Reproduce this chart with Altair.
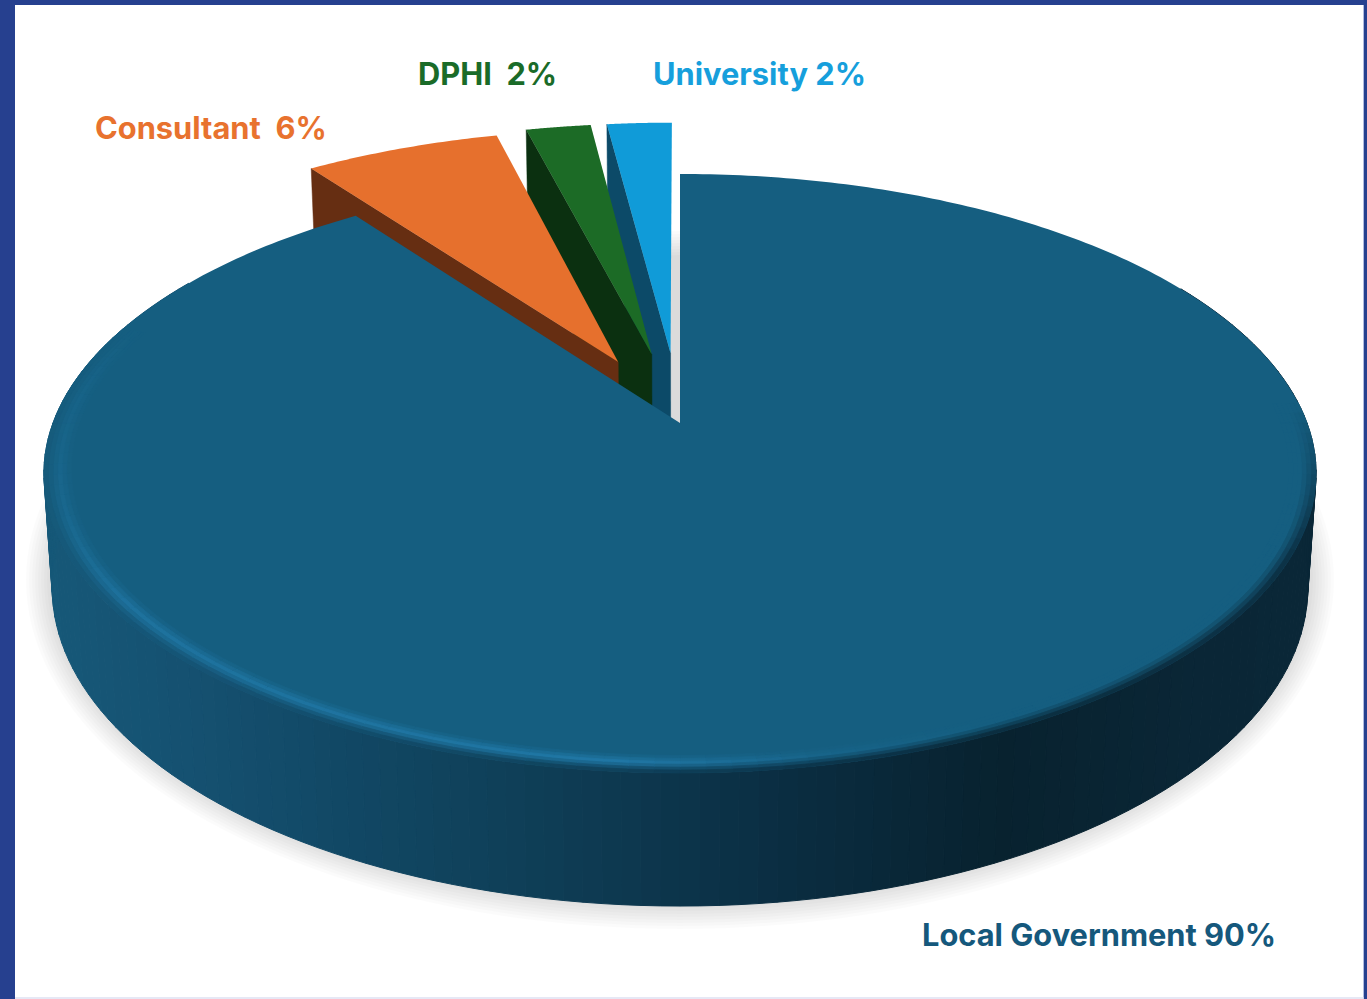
import altair as alt
import numpy as np

# Survey shares, clockwise from twelve o'clock
categories = ["Local Government", "Consultant", "DPHI", "University"]
shares = [90, 6, 2, 2]

# Look of each slice: top face, radial wall, label colour and how far it is pulled out
TOP = {"Local Government": "#155e80", "Consultant": "#e6702d", "DPHI": "#1c6b26", "University": "#109bd8"}
SIDE = {"Local Government": "#0f4059", "Consultant": "#662e12", "DPHI": "#0b3010", "University": "#0c4a68"}
INK = {"Local Government": "#15587c", "Consultant": "#e8722e", "DPHI": "#1a6b28", "University": "#169fdc"}
PULL = {"Local Government": 0.0, "Consultant": 0.24, "DPHI": 0.25, "University": 0.25}
LABELS = {
    "Local Government": ("Local Government 90%", 922, 946),
    "Consultant": ("Consultant\u00a0 6%", 95, 139),
    "DPHI": ("DPHI\u00a0 2%", 418, 85),
    "University": ("University 2%", 653, 85),
}

# Perspective of the disc on the page
CX, CY, K, AX, AY = 680.0, 423.0, 0.1686, 627.0, 291.0
BASE_SCALE, DEPTH = 0.987, 110.6
LEFT, TOP_PAD, RIGHT = 15, 5, 3
W, H = 1367 - LEFT - RIGHT, 999 - TOP_PAD


def project(u, v, lower=False, depth=DEPTH):
    """Map a disc point (u right, v back, radius 1) to the page."""
    d = 1 + K * v
    x = AX * u / d
    y = -AY * v / d
    if lower:
        x *= BASE_SCALE
        y += depth / d
    return [float(CX + x), float(CY + y)]


def hexmix(a, b, t):
    ca = [int(a[i:i + 2], 16) for i in (1, 3, 5)]
    cb = [int(b[i:i + 2], 16) for i in (1, 3, 5)]
    return "#" + "".join(f"{round(p + (q - p) * t):02x}" for p, q in zip(ca, cb))


def shape(points, fill, opacity=1.0, edge=0.0):
    ring = list(points) + [points[0]]
    return {
        "type": "Feature",
        "geometry": {"type": "Polygon", "coordinates": [ring]},
        "properties": {"fill": fill, "opacity": opacity, "edge": edge},
    }


features = []

# Soft shadow under the pie, built from stacked translucent ellipses
for grow in np.arange(24, -1, -3):
    t = np.radians(np.arange(0, 360, 2))
    ring = [[float(CX + (630 + grow) * np.cos(a)), float(580 + (325 + grow) * np.sin(a))] for a in t]
    features.append(shape(ring, "#000000", 0.014))

# Slices from the back forward: pulled slices first, the large one last
cum = np.cumsum([0] + shares)
spans = {c: (cum[i] * 3.6, cum[i + 1] * 3.6) for i, c in enumerate(categories)}


def disc(theta, r, a, b):
    return r * np.sin(theta) + a, r * np.cos(theta) + b


# Walls of the pulled slices run on behind the large slice, so neighbours close up without a gap
HIDDEN_DEPTH = DEPTH * 1.25
for name in ["University", "DPHI", "Consultant"]:
    a0, a1 = spans[name]
    mid = np.radians((a0 + a1) / 2)
    ox, oy = PULL[name] * np.sin(mid), PULL[name] * np.cos(mid)
    start = disc(np.radians(a0), 1, ox, oy)
    features.append(shape(
        [
            project(ox, oy),
            project(*start),
            project(*start, lower=True, depth=HIDDEN_DEPTH),
            project(ox, oy, lower=True, depth=HIDDEN_DEPTH),
        ],
        SIDE[name], edge=0.5,
    ))
    arc = [project(*disc(th, 1, ox, oy)) for th in np.radians(np.linspace(a0, a1, 40))]
    features.append(shape([project(ox, oy)] + arc, TOP[name]))

# Outer wall of the large slice, shaded strip by strip from left to right
WALL_X = [44, 200, 300, 500, 700, 800, 1000, 1200, 1316]
WALL_C = [(0x16, 0x58, 0x78), (0x15, 0x50, 0x70), (0x12, 0x4a, 0x68), (0x0f, 0x40, 0x59),
          (0x0c, 0x33, 0x49), (0x0a, 0x2c, 0x40), (0x08, 0x22, 0x2f), (0x0a, 0x26, 0x36), (0x0a, 0x27, 0x37)]


def wall_colour(x):
    return "#" + "".join(f"{round(np.interp(x, WALL_X, [c[i] for c in WALL_C])):02x}" for i in range(3))


strip_edges = np.radians(np.arange(60, 302, 1.5))
for p, q in zip(strip_edges[:-1], strip_edges[1:]):
    up, vp = np.sin(p), np.cos(p)
    uq, vq = np.sin(q), np.cos(q)
    pts = [project(up, vp), project(uq, vq), project(uq, vq, lower=True), project(up, vp, lower=True)]
    features.append(shape(pts, wall_colour((pts[0][0] + pts[1][0]) / 2), edge=1.0))

# Top face of the large slice
a0, a1 = spans["Local Government"]
lg_arc = [project(np.sin(t), np.cos(t)) for t in np.radians(np.linspace(a0, a1, 400))]
features.append(shape([project(0, 0)] + lg_arc, TOP["Local Government"]))

# Bevel along the front of the rim: a lit band on the left fading into the dark wall on the right
HIGHLIGHT = "#2179a8"
BANDS = np.array([0.958, 0.965, 0.972, 0.979, 0.986, 0.993, 1.0])
LIFT = [0.2, 0.55, 0.9, 0.8, 0.5, 0.25]
DARK = [0.0, 0.0, 0.0, 0.2, 0.5, 0.8]
bevel_edges = np.arange(86, 292, 2.0)
for p, q in zip(bevel_edges[:-1], bevel_edges[1:]):
    m = (p + q) / 2
    rad = np.radians(m)
    xpos = project(np.sin(rad), np.cos(rad))[0]
    lit = float(np.interp(xpos, [44, 110, 620, 820, 1000], [0.35, 0.8, 1.0, 0.25, 0.0]))
    fade = float(np.clip(min((m - 86) / 30, (290 - m) / 35), 0, 1))
    wall = wall_colour(xpos)
    for j in range(len(BANDS) - 1):
        colour = hexmix(hexmix(TOP["Local Government"], HIGHLIGHT, LIFT[j] * lit), wall, DARK[j])
        r0, r1 = BANDS[j], BANDS[j + 1]
        pts = [
            project(r0 * np.sin(np.radians(p)), r0 * np.cos(np.radians(p))),
            project(r1 * np.sin(np.radians(p)), r1 * np.cos(np.radians(p))),
            project(r1 * np.sin(np.radians(q)), r1 * np.cos(np.radians(q))),
            project(r0 * np.sin(np.radians(q)), r0 * np.cos(np.radians(q))),
        ]
        features.append(shape(pts, hexmix(TOP["Local Government"], colour, fade), edge=0.8))

# Thin pale edges of the frame on the right and along the bottom
features.append(shape([[1363.5, 0], [1367, 0], [1367, 999], [1363.5, 999]], "#6577bd"))
features.append(shape([[LEFT, 997], [1363.5, 997], [1363.5, 999], [LEFT, 999]], "#e6e8f5"))

pie = (
    alt.Chart(alt.Data(values=features))
    .mark_geoshape()
    .encode(
        fill=alt.Fill("properties.fill:N", scale=None),
        stroke=alt.Stroke("properties.fill:N", scale=None),
        strokeWidth=alt.StrokeWidth("properties.edge:Q", scale=None),
        opacity=alt.Opacity("properties.opacity:Q", scale=None),
    )
    .project(type="identity", scale=1, translate=[-LEFT, -TOP_PAD])
)

texts = []
for name in categories:
    caption, px, py = LABELS[name]
    texts.append(
        alt.Chart(alt.Data(values=[{"caption": caption}]))
        .mark_text(font="Inter", fontWeight=700, fontSize=30.8, align="left", baseline="alphabetic", color=INK[name])
        .encode(text="caption:N", x=alt.value(px - LEFT), y=alt.value(py - TOP_PAD))
    )

chart = (
    alt.layer(pie, *texts)
    .properties(
        width=W,
        height=H,
        padding={"left": LEFT, "top": TOP_PAD, "right": RIGHT, "bottom": 0},
        background="#26408f",
    )
    .configure_view(fill="white", stroke=None)
)

chart.save("out.html", embed_options={"renderer": "svg", "actions": False})
